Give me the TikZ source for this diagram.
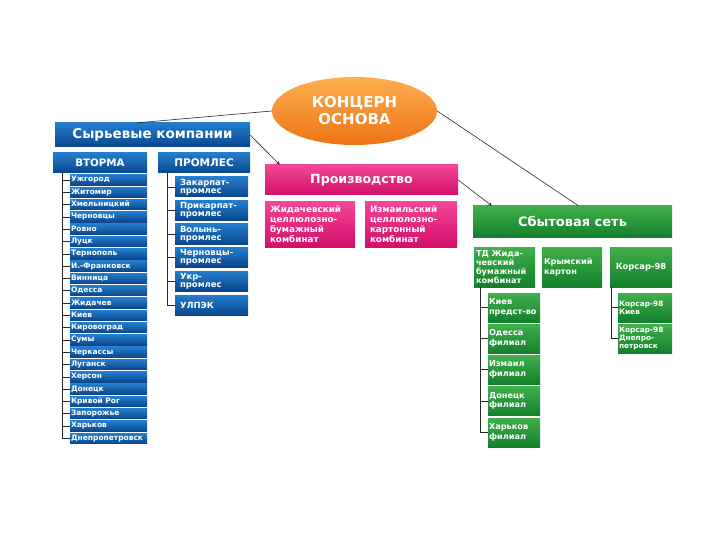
\documentclass[tikz,border=0pt]{standalone}
\usepackage{fontspec}
\setmainfont{DejaVu Sans}
\usepackage{tikz}
\usetikzlibrary{arrows, shapes.geometric, positioning}
\usepackage{xcolor}

\definecolor{bluetop}{RGB}{35,125,205}
\definecolor{bluebot}{RGB}{10,70,140}
\definecolor{pinktop}{RGB}{242,70,150}
\definecolor{pinkbot}{RGB}{210,15,105}
\definecolor{greentop}{RGB}{65,175,75}
\definecolor{greenbot}{RGB}{20,128,45}
\definecolor{orangetop}{RGB}{252,175,80}
\definecolor{orangebot}{RGB}{238,115,20}
\definecolor{linegray}{RGB}{40,40,40}

\tikzset{
	box/.style={rectangle, text=white, font=\bfseries, inner sep=2pt},
	bluebox/.style={box, top color=bluetop, bottom color=bluebot},
	pinkbox/.style={box, top color=pinktop, bottom color=pinkbot},
	greenbox/.style={box, top color=greentop, bottom color=greenbot},
	city/.style={bluebox, minimum width=77pt, minimum height=10.5pt, text width=75pt, inner sep=1pt, align=left, font=\bfseries\fontsize{7.5}{8}\selectfont},
	lesbox/.style={bluebox, minimum width=73pt, minimum height=20pt, text width=63pt, inner sep=1pt, align=left, font=\bfseries\fontsize{8.5}{8.3}\selectfont},
	filial/.style={greenbox, minimum width=52pt, minimum height=29pt, text width=50pt, inner sep=1pt, align=left, font=\bfseries\fontsize{8.2}{9.5}\selectfont},
	tree/.style={linegray, semithick},
	link/.style={linegray, semithick}
}

\begin{document}
\begin{tikzpicture}[x=1pt,y=-1pt]
	\useasboundingbox[fill=white] (0,0) rectangle (720,540);
	% top
	\node[ellipse, top color=orangetop, bottom color=orangebot, minimum width=165pt, minimum height=68pt, text=white, font=\bfseries\fontsize{15}{17}\selectfont, align=center, inner sep=0pt] (kontsern) at (354.5,111) {КОНЦЕРН\\ОСНОВА};
	\node[bluebox, minimum width=195pt, minimum height=24pt, font=\bfseries\fontsize{13.5}{14}\selectfont] (syr) at (152.5,135) {Сырьевые компании};
	\node[pinkbox, minimum width=193pt, minimum height=30pt, font=\bfseries\fontsize{12.6}{14}\selectfont] (proizv) at (361.5,180) {Производство};
	\node[greenbox, minimum width=199pt, minimum height=31pt, font=\bfseries\fontsize{13}{14}\selectfont] (sbyt) at (572.5,221.5) {Сбытовая сеть};

	\draw[link] (kontsern.west) -- ([xshift=-15pt]syr.north);
	\draw[link] (kontsern.east) -- ([xshift=6pt]sbyt.north);
	\draw[link,-stealth] (syr.east) -- ([xshift=15pt]proizv.north west);
	\draw[link,-stealth] (proizv.east) -- ([xshift=19pt]sbyt.north west);

	% raw materials
	\node[bluebox, minimum width=94pt, minimum height=20pt, font=\bfseries\fontsize{10.3}{11}\selectfont] (vtorma) at (100,163) {ВТОРМА};
	\node[bluebox, minimum width=92pt, minimum height=20pt, font=\bfseries\fontsize{10.5}{11}\selectfont] (promles) at (204,163) {ПРОМЛЕС};

	\node[city] (v1) at (108.5,180) {Ужгород};
	\node[city] (v2) at (108.5,192.3) {Житомир};
	\node[city] (v3) at (108.5,204.6) {Хмельницкий};
	\node[city] (v4) at (108.5,216.9) {Черновцы};
	\node[city] (v5) at (108.5,229.2) {Ровно};
	\node[city] (v6) at (108.5,241.5) {Луцк};
	\node[city] (v7) at (108.5,253.8) {Тернополь};
	\node[city] (v8) at (108.5,266.1) {И.-Франковск};
	\node[city] (v9) at (108.5,278.4) {Винница};
	\node[city] (v10) at (108.5,290.7) {Одесса};
	\node[city] (v11) at (108.5,303) {Жидачев};
	\node[city] (v12) at (108.5,315.3) {Киев};
	\node[city] (v13) at (108.5,327.6) {Кировоград};
	\node[city] (v14) at (108.5,339.9) {Сумы};
	\node[city] (v15) at (108.5,352.2) {Черкассы};
	\node[city] (v16) at (108.5,364.5) {Луганск};
	\node[city] (v17) at (108.5,376.8) {Херсон};
	\node[city] (v18) at (108.5,389.1) {Донецк};
	\node[city] (v19) at (108.5,401.4) {Кривой Рог};
	\node[city] (v20) at (108.5,413.7) {Запорожье};
	\node[city] (v21) at (108.5,426) {Харьков};
	\node[city] (v22) at (108.5,438.3) {Днепропетровск};
	\coordinate (vt) at (62,173);
	\draw[tree] (vt) |- (v22.west);
	\foreach \n in {v1,v2,v3,v4,v5,v6,v7,v8,v9,v10,v11,v12,v13,v14,v15,v16,v17,v18,v19,v20,v21}
		\draw[tree] (\n.west) -- (\n.west -| vt);

	\node[lesbox] (p1) at (211.5,187) {Закарпат-\\промлес};
	\node[lesbox] (p2) at (211.5,210.5) {Прикарпат-\\промлес};
	\node[lesbox] (p3) at (211.5,234) {Волынь-\\промлес};
	\node[lesbox] (p4) at (211.5,257.5) {Черновцы-\\промлес};
	\node[lesbox] (p5) at (211.5,281) {Укр-\\промлес};
	\node[lesbox] (p6) at (211.5,305) {УЛПЭК};
	\coordinate (pt) at (167,173);
	\draw[tree] (pt) |- (p6.west);
	\foreach \n in {p1,p2,p3,p4,p5}
		\draw[tree] (\n.west) -- (\n.west -| pt);

	% production
	\node[pinkbox, minimum width=90pt, minimum height=45pt, text width=80pt, align=left, font=\bfseries\fontsize{8.8}{10}\selectfont] (zhid) at (310,224.5) {Жидачевский\\целлюлозно-\\бумажный\\комбинат};
	\node[pinkbox, minimum width=92pt, minimum height=45pt, text width=82pt, align=left, font=\bfseries\fontsize{8.8}{10}\selectfont] (izm) at (411,224.5) {Измаильский\\целлюлозно-\\картонный\\комбинат};

	% sales
	\node[greenbox, minimum width=61pt, minimum height=40pt, text width=57pt, inner sep=1pt, align=left, font=\bfseries\fontsize{8.2}{8.9}\selectfont] (td) at (504.5,267) {ТД Жида-\\чевский\\бумажный\\комбинат};
	\node[greenbox, minimum width=60pt, minimum height=40pt, text width=56pt, inner sep=1pt, align=left, font=\bfseries\fontsize{8.2}{9.5}\selectfont] (krym) at (572,267) {Крымский\\картон};
	\node[greenbox, minimum width=62pt, minimum height=40pt, font=\bfseries\fontsize{8.4}{9}\selectfont] (korsar) at (641,267) {Корсар-98};

	\node[filial] (t1) at (514,307.5) {Киев\\предст-во};
	\node[filial] (t2) at (514,338.5) {Одесса\\филиал};
	\node[filial] (t3) at (514,369.5) {Измаил\\филиал};
	\node[filial] (t4) at (514,401) {Донецк\\филиал};
	\node[filial] (t5) at (514,432.5) {Харьков\\филиал};
	\coordinate (tt) at (480,287);
	\draw[tree] (tt) |- (t5.west);
	\foreach \n in {t1,t2,t3,t4}
		\draw[tree] (\n.west) -- (\n.west -| tt);

	\node[filial, minimum width=54pt, text width=52pt, font=\bfseries\fontsize{7.4}{8}\selectfont] (k1) at (645,307.5) {Корсар-98\\Киев};
	\node[filial, minimum width=54pt, text width=52pt, font=\bfseries\fontsize{7.4}{8}\selectfont] (k2) at (645,338.5) {Корсар-98\\Днепро-\\петровск};
	\coordinate (kt) at (611,287);
	\draw[tree] (kt) |- (k2.west);
	\draw[tree] (k1.west) -- (k1.west -| kt);
\end{tikzpicture}
\end{document}
